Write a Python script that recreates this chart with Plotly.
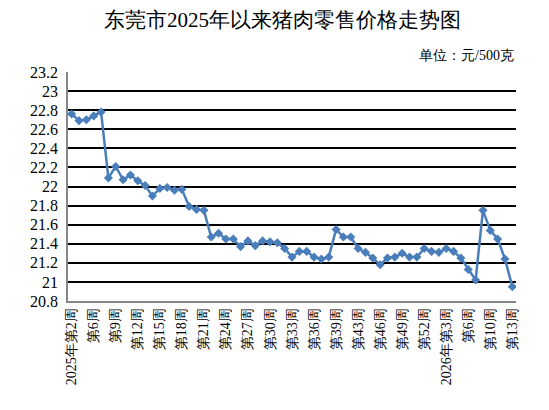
import plotly.graph_objects as go

weeks_2025 = [2, 3, 4] + list(range(6, 40)) + list(range(41, 53))
weeks_2026 = [1, 2, 3, 4, 5, 6, 7, 9, 10, 11, 12, 13]
categories = [f"2025年第{w}周" for w in weeks_2025] + [f"2026年第{w}周" for w in weeks_2026]

prices = [22.76, 22.69, 22.70, 22.74, 22.78, 22.09, 22.21, 22.07, 22.12, 22.06,
          22.01, 21.90, 21.98, 21.99, 21.96, 21.97, 21.79, 21.76, 21.75, 21.47,
          21.51, 21.45, 21.45, 21.37, 21.43, 21.38, 21.43, 21.42, 21.41, 21.35,
          21.26, 21.32, 21.32, 21.26, 21.24, 21.26, 21.55, 21.47, 21.47, 21.35,
          21.31, 21.25, 21.18, 21.25, 21.26, 21.30, 21.26, 21.26, 21.35, 21.32,
          21.31, 21.35, 21.32, 21.25, 21.13, 21.02, 21.75, 21.54, 21.45, 21.24,
          20.95]

tick_cats = categories[::3]
tick_labels = ["2025年第2周", "第6周", "第9周", "第12周", "第15周", "第18周", "第21周",
               "第24周", "第27周", "第30周", "第33周", "第36周", "第39周", "第43周",
               "第46周", "第49周", "第52周", "2026年第3周", "第6周", "第10周", "第13周"]

title_text = "东莞市2025年以来猪肉零售价格走势图"
unit_text = "单位：元/500克"

serif = "Liberation Serif"
color = "#4A7EBB"

fig = go.Figure()
fig.add_trace(go.Scatter(
    x=categories, y=prices, mode="lines+markers",
    line=dict(color=color, width=2.5),
    marker=dict(symbol="diamond", size=7, color=color),
    showlegend=False,
))

fig.update_layout(
    width=549, height=410,
    margin=dict(l=60, r=41, t=64, b=117),
    paper_bgcolor="white", plot_bgcolor="white",
    title=dict(text=title_text, x=0.5, xanchor="center", y=0.99, yanchor="top",
               font=dict(family=serif, size=21, color="black")),
    annotations=[dict(text=unit_text, xref="paper", yref="paper", x=1.0, y=1.03,
                      xanchor="right", yanchor="bottom", showarrow=False,
                      font=dict(family=serif, size=14, color="black"))],
)

fig.update_xaxes(
    type="category", categoryorder="array", categoryarray=categories,
    range=[-0.5, len(categories) - 0.5],
    tickmode="array", tickvals=tick_cats, ticktext=tick_labels,
    tickangle=-90, tickfont=dict(family=serif, size=14, color="black"),
    showgrid=False, showline=True, linecolor="#868686", linewidth=1.5,
    ticks="", zeroline=False,
)
fig.update_yaxes(
    range=[20.8, 23.2], dtick=0.2, tick0=20.8,
    showgrid=True, gridcolor="black", gridwidth=1.5,
    showline=True, linecolor="#868686", linewidth=1.5,
    tickfont=dict(family=serif, size=16, color="black"),
    ticklabelstandoff=5,
    ticks="", zeroline=False,
)

fig.write_html("out.html")
